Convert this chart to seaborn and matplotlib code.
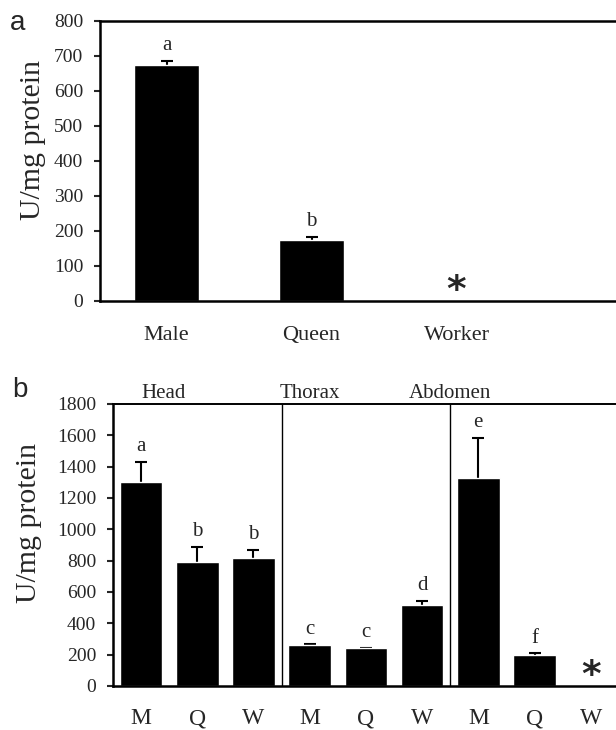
import numpy as np
import pandas as pd
import matplotlib
matplotlib.use("Agg")
import matplotlib.pyplot as plt
import matplotlib.transforms as mtransforms
import seaborn as sns

# ---------- DATA ----------
# panel a: whole body activity per caste
castes_a = ["Male", "Queen", "Worker"]
activity_a = [675, 175, 0]
sem_a = [10, 9, 0]
letters_a = ["a", "b", ""]

# panel b: activity per body part and caste
regions = ["Head", "Thorax", "Abdomen"]
castes_b = ["M", "Q", "W"]
activity_b = [1305, 790, 820, 262, 240, 515, 1330, 200, 0]
sem_b = [125, 100, 50, 4, 3, 30, 255, 8, 0]
letters_b = ["a", "b", "b", "c", "c", "d", "e", "f", ""]

sns.set_style("ticks")
plt.rcParams["font.family"] = ["Liberation Serif", "DejaVu Serif"]


def draw_bars(ax, df, xcol, values, errors, letters, width, letter_size):
    sns.barplot(data=df, x=xcol, y="activity", color="black", saturation=1,
                width=width, errorbar=None, ax=ax, zorder=3)
    xs = [p.get_x() + p.get_width() / 2 for p in ax.patches]
    for x, v, e, lab in zip(xs, values, errors, letters):
        if v > 0:
            # symmetric bar drawn behind the column so only the upper half shows
            ax.errorbar([x], [v], yerr=[e], fmt="none", ecolor="black",
                        elinewidth=1.5, capsize=4.5, capthick=1.5, zorder=2)
            ax.annotate(lab, (x, v + e), xytext=(0, 4), textcoords="offset points",
                        ha="center", va="bottom", fontsize=letter_size)
        else:
            # not detected
            ax.annotate("*", (x, 0), xytext=(0, -6), textcoords="offset points",
                        ha="center", va="bottom", fontsize=27, fontweight="bold",
                        family="DejaVu Sans")


def style_axes(ax, ymax, ystep):
    ax.set_ylim(0, ymax)
    ax.set_yticks(np.arange(0, ymax + 1, ystep))
    ax.tick_params(axis="y", direction="out", length=4, width=1.5, pad=8, labelsize=14)
    ax.tick_params(axis="x", length=0, pad=16)
    ax.set_xlabel("")
    ax.spines["right"].set_visible(False)
    for s in ["left", "top", "bottom"]:
        ax.spines[s].set_linewidth(1.8)
        ax.spines[s].set_color("black")
        ax.spines[s].set_zorder(4)


fig = plt.figure(figsize=(6.16, 7.30), dpi=100)
ax_a = fig.add_axes([0.1623, 0.5877, 0.8377, 0.3839])
ax_b = fig.add_axes([0.1834, 0.0603, 0.8166, 0.3863])

# ---------- PANEL A ----------
df_a = pd.DataFrame({"caste": castes_a, "activity": activity_a})
draw_bars(ax_a, df_a, "caste", activity_a, sem_a, letters_a, 0.45, 15)
ax_a.set_xlim(-0.46, 3.1)
style_axes(ax_a, 800, 100)
ax_a.tick_params(axis="x", labelsize=16, pad=18)
ax_a.set_ylabel("U/mg protein", fontsize=21.5)
ax_a.yaxis.set_label_coords(-0.105, 0.575)

# ---------- PANEL B ----------
df_b = pd.DataFrame({"region": np.repeat(regions, len(castes_b)),
                     "caste": castes_b * len(regions),
                     "activity": activity_b})
df_b["group"] = df_b["region"] + " " + df_b["caste"]
draw_bars(ax_b, df_b, "group", activity_b, sem_b, letters_b, 0.76, 15)
ax_b.set_xlim(-0.5, 8.45)
style_axes(ax_b, 1800, 200)
ax_b.set_xticks(range(len(df_b)))
ax_b.set_xticklabels(df_b["caste"], fontsize=17)
ax_b.spines["top"].set_linewidth(1.4)
ax_b.set_ylabel("U/mg protein", fontsize=21.5)
ax_b.yaxis.set_label_coords(-0.141, 0.578)

n = len(castes_b)
for i in range(1, len(regions)):
    ax_b.axvline(i * n - 0.5, color="black", lw=1)

trans = mtransforms.blended_transform_factory(ax_b.transData, ax_b.transAxes)
region_label_x = [0.4, 3.0, 5.5]
for rx, name in zip(region_label_x, regions):
    ax_b.text(rx, 1.005, name, transform=trans, ha="center", va="bottom", fontsize=15)

# panel letters
fig.text(0.016, 1 - 30 / 730, "a", family="Liberation Sans", fontsize=20, va="baseline")
fig.text(0.019, 1 - 397 / 730, "b", family="Liberation Sans", fontsize=20, va="baseline")

fig.savefig("out.png", dpi=100)
